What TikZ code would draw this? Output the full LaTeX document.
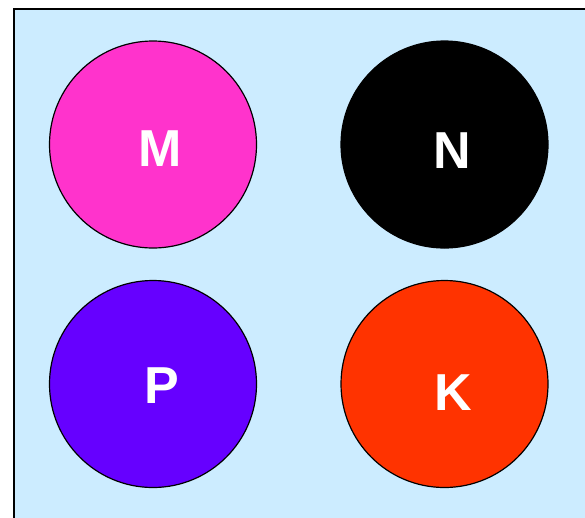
\documentclass[tikz,border=0pt]{standalone}
\usepackage{fontspec}
\setmainfont{Liberation Sans}
\usetikzlibrary{positioning}
\definecolor{skyback}{RGB}{204, 236, 255}
\definecolor{popmag}{RGB}{255, 51, 204}
\definecolor{popviolet}{RGB}{102, 0, 255}
\definecolor{popred}{RGB}{255, 51, 0}
\begin{document}
\begin{tikzpicture}[
  x=1pt, y=-1pt,
  ball/.style={circle, draw=black, line width=1.2pt, minimum size=207pt, inner sep=0pt},
  lbl/.style={text=white, anchor=base, inner sep=0pt, font=\bfseries\fontsize{52}{52}\selectfont}
]
  \useasboundingbox (0,0) rectangle (585,517);
  \fill[skyback] (14,9) rectangle (600,530);
  \draw[line width=2pt] (14,540) -- (14,9) -- (600,9);
  \node[ball, fill=popmag] (m) at (153,144.5) {};
  \node[ball, fill=black] (n) at (444.5,144.5) {};
  \node[ball, fill=popviolet] (p) at (153,384) {};
  \node[ball, fill=popred] (k) at (444.5,384) {};
  \node[lbl] (mlbl) at (160.5,166) {M};
  \node[lbl] (nlbl) at (452,168) {N};
  \node[lbl] (plbl) at (162,403.5) {P};
  \node[lbl] (klbl) at (453,410) {K};
\end{tikzpicture}
\end{document}
